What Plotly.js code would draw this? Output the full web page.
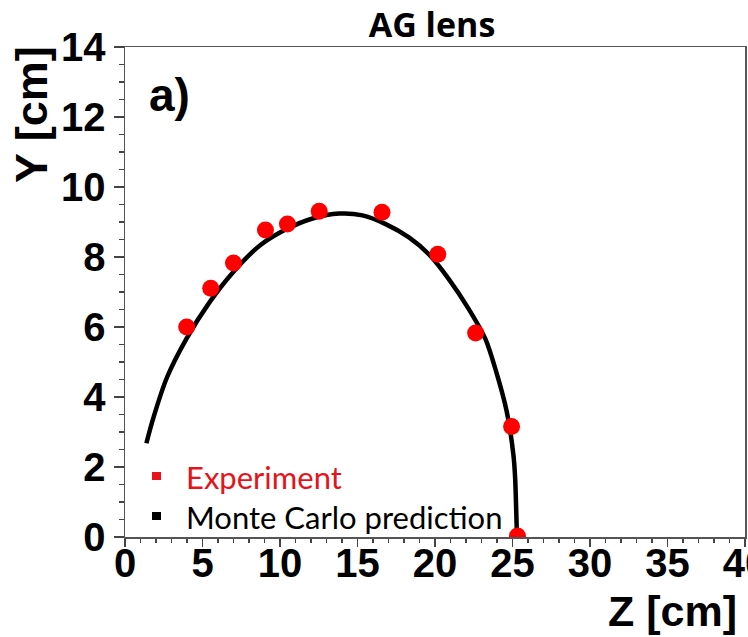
<!DOCTYPE html>
<html>
<head>
<meta charset="utf-8">
<script src="https://cdn.plot.ly/plotly-3.0.1.min.js"></script>
<style>html,body{margin:0;padding:0;background:#fff;}#chart{width:748px;height:637px;}</style>
</head>
<body>
<div id="chart"></div>
<script>
// Experiment (red points)
const expZ = [3.98, 5.53, 7.0, 9.06, 10.48, 12.53, 16.58, 20.18, 22.62, 24.94, 25.32];
const expY = [6.00, 7.11, 7.83, 8.77, 8.94, 9.31, 9.28, 8.08, 5.83, 3.16, 0.03];
// Monte Carlo prediction (black curve)
const mcZ = [1.38, 1.82, 2.70, 3.96, 5.46, 6.96, 8.68, 10.39, 12.10, 13.82, 15.32, 16.82, 18.32, 19.60, 20.89, 22.17, 23.25, 23.89, 24.63, 25.06, 25.17, 25.28, 25.30];
const mcY = [2.68, 3.39, 4.55, 5.66, 6.71, 7.56, 8.32, 8.79, 9.10, 9.24, 9.19, 8.94, 8.56, 8.08, 7.37, 6.52, 5.66, 4.81, 3.58, 2.34, 1.68, 0.16, 0.0];

const xTicks = [0, 5, 10, 15, 20, 25, 30, 35, 40];
const yTicks = [0, 2, 4, 6, 8, 10, 12, 14];

const titleText = "AG lens";
const xTitle = "Z [cm]";
const yTitle = "Y [cm]";
const panelLabel = "a)";
const legendLabels = ["Experiment", "Monte Carlo prediction"];
const legendColors = ["#e8121a", "#000000"];

const arial = "'Liberation Sans', Arial, Helvetica, sans-serif";
const tickFont = {family: arial, size: 40, color: "#000"};

const traces = [
  {x: mcZ, y: mcY, mode: "lines", type: "scatter", line: {color: "#000", width: 4.5, shape: "spline", smoothing: 0.8}, showlegend: false, hoverinfo: "skip"},
  {x: expZ, y: expY, mode: "markers", type: "scatter", marker: {color: "#ff0000", size: 17}, showlegend: false}
];

const layout = {
  width: 748, height: 637,
  margin: {l: 125, r: 3, t: 47, b: 100},
  paper_bgcolor: "#fff", plot_bgcolor: "#fff",
  showlegend: false,
  title: {text: "<b>" + titleText + "</b>", xref: "container", yref: "container", x: 432/748, y: 1 - 25/637, xanchor: "center", yanchor: "middle",
          font: {family: "'Open Sans', sans-serif", size: 34, color: "#000"}},
  xaxis: {range: [0, 40], tickvals: xTicks, ticktext: xTicks.map(v => "<b>" + v + "</b>"),
          showgrid: false, zeroline: false, showline: true, mirror: true, linecolor: "#555", linewidth: 1.5,
          ticks: "outside", ticklen: 8, tickwidth: 1.2, tickcolor: "#444", tickfont: tickFont,
          ticklabelstandoff: -18, ticklabeloverflow: "allow",
          minor: {dtick: 1, ticks: "outside", ticklen: 4, tickwidth: 1.2, tickcolor: "#444", showgrid: false}},
  yaxis: {range: [0, 14], tickvals: yTicks, ticktext: yTicks.map(v => "<b>" + v + "</b>"),
          showgrid: false, zeroline: false, showline: true, mirror: true, linecolor: "#555", linewidth: 1.5,
          ticks: "outside", ticklen: 10, tickwidth: 1.2, tickcolor: "#444", tickfont: tickFont,
          minor: {dtick: 0.5, ticks: "outside", ticklen: 5, tickwidth: 1.2, tickcolor: "#444", showgrid: false}},
  annotations: [
    {text: "<b>" + yTitle + "</b>", xref: "paper", yref: "paper", x: (31-125)/620, y: (537-115)/490, textangle: -90,
     xanchor: "center", yanchor: "middle", showarrow: false, font: {family: arial, size: 45, color: "#000"}},
    {text: "<b>" + xTitle + "</b>", xref: "paper", yref: "paper", x: (739-125)/620, y: (537-611)/490,
     xanchor: "right", yanchor: "middle", showarrow: false, font: {family: arial, size: 43, color: "#000"}},
    {text: "<b>" + panelLabel + "</b>", xref: "paper", yref: "paper", x: (147-125)/620, y: (537-95)/490,
     xanchor: "left", yanchor: "middle", showarrow: false, font: {family: arial, size: 46, color: "#000"}},
    {text: legendLabels[0], xref: "paper", yref: "paper", x: (184-125)/620, y: (537-477)/490,
     xanchor: "left", yanchor: "middle", showarrow: false, font: {family: "Lato, sans-serif", size: 31, color: legendColors[0]}},
    {text: legendLabels[1], xref: "paper", yref: "paper", x: (184-125)/620, y: (537-517)/490,
     xanchor: "left", yanchor: "middle", showarrow: false, font: {family: "Lato, sans-serif", size: 31, color: legendColors[1]}}
  ],
  shapes: [
    {type: "rect", xref: "paper", yref: "paper", x0: (152-125)/620, x1: (161-125)/620, y0: (537-480)/490, y1: (537-472)/490,
     fillcolor: legendColors[0], line: {width: 0}},
    {type: "rect", xref: "paper", yref: "paper", x0: (152-125)/620, x1: (161-125)/620, y0: (537-520)/490, y1: (537-512)/490,
     fillcolor: legendColors[1], line: {width: 0}}
  ]
};

Plotly.newPlot("chart", traces, layout, {displayModeBar: false, staticPlot: true});
</script>
</body>
</html>
